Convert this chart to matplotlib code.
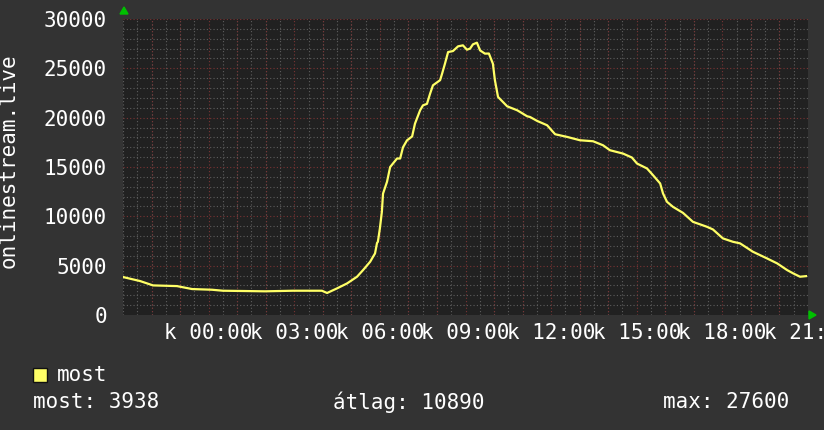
import matplotlib.pyplot as plt
from matplotlib.ticker import MultipleLocator

# hours since 21:00 of the previous day, viewer counts
hours = [0.00, 0.07, 0.60, 1.05, 1.89, 2.42, 3.12, 3.50, 4.98, 5.96,
         6.97, 7.15, 7.50, 7.85, 8.20, 8.41, 8.66, 8.76, 8.83, 8.90,
         8.93, 9.00, 9.07, 9.11, 9.25, 9.36, 9.60, 9.71, 9.81, 9.95,
         10.13, 10.23, 10.41, 10.51, 10.65, 10.76, 10.86, 11.11, 11.18, 11.28,
         11.39, 11.56, 11.74, 11.91, 12.05, 12.16, 12.26, 12.40, 12.51, 12.68,
         12.82, 12.96, 13.03, 13.14, 13.46, 13.81, 13.91, 14.16, 14.26, 14.51,
         14.86, 15.14, 15.56, 16.01, 16.47, 16.82, 17.06, 17.52, 17.83, 18.01,
         18.36, 18.57, 18.82, 18.92, 19.06, 19.27, 19.62, 19.97, 20.46, 20.67,
         21.02, 21.37, 21.62, 22.07, 22.56, 22.92, 23.27, 23.48, 23.72, 23.93]
viewers = [3850, 3800, 3440, 3000, 2930, 2630, 2560, 2460, 2400, 2460,
           2460, 2230, 2700, 3200, 3880, 4550, 5400, 5900, 6240, 7300,
           7420, 8770, 10460, 12300, 13500, 15000, 15860, 15860, 17000, 17700,
           18100, 19400, 20750, 21250, 21400, 22440, 23280, 23800, 24460, 25470,
           26650, 26750, 27230, 27330, 26890, 27000, 27430, 27600, 26820, 26490,
           26500, 25470, 23800, 22100, 21150, 20750, 20580, 20140, 20070, 19670,
           19230, 18320, 18050, 17710, 17610, 17200, 16700, 16360, 15960, 15350,
           14850, 14170, 13330, 12320, 11470, 10960, 10350, 9440, 8940, 8670,
           7760, 7420, 7260, 6410, 5740, 5230, 4550, 4220, 3880, 3938]

tick_hours = [3, 6, 9, 12, 15, 18, 21, 24]
tick_labels = ["k 00:00", "k 03:00", "k 06:00", "k 09:00",
               "k 12:00", "k 15:00", "k 18:00", "k 21:00"]
y_ticks = [0, 5000, 10000, 15000, 20000, 25000, 30000]

legend_name = "most"
stat_cur = "most: 3938"
stat_avg = "átlag: 10890"
stat_max = "max: 27600"

BACK = "#333333"
CANVAS = "#212121"
GRID = "#5e5e5e"
MGRID = "#7a3434"
LINE = "#ffff66"
FONT = "DejaVu Sans Mono"

fig = plt.figure(figsize=(8.24, 4.30), dpi=100, facecolor=BACK)
ax = fig.add_axes([123 / 824, 115 / 430, 685 / 824, 296 / 430])
ax.set_facecolor(CANVAS)

ax.plot(hours, viewers, color=LINE, lw=1.6, zorder=3)

ax.set_xlim(0, 24)
ax.set_ylim(0, 30000)

# grid: grey every 30 min / 1000, red every hour / 5000
ax.xaxis.set_minor_locator(MultipleLocator(0.5))
ax.yaxis.set_minor_locator(MultipleLocator(1000))
ax.grid(which="minor", color=GRID, ls=(0, (1, 2)), lw=0.8)
ax.set_axisbelow(True)
for h in range(1, 24):
    ax.axvline(h, color=MGRID, ls=(0, (1, 2)), lw=0.8, zorder=1)
for v in y_ticks[1:]:
    ax.axhline(v, color=MGRID, ls=(0, (1, 2)), lw=0.8, zorder=1)

ax.set_xticks(tick_hours)
ax.set_xticklabels(tick_labels)
ax.set_yticks(y_ticks)
ax.set_yticklabels([str(v) for v in y_ticks])
ax.tick_params(axis="both", which="both", length=0, colors="white",
               labelsize=15)
ax.tick_params(axis="x", pad=6)
ax.tick_params(axis="y", pad=11.5)
for lab in ax.get_xticklabels() + ax.get_yticklabels():
    lab.set_fontfamily(FONT)

for s in ax.spines.values():
    s.set_visible(False)

ax.set_ylabel("onlinestream.live", color="white", fontsize=15,
              fontfamily=FONT, labelpad=0)
ax.yaxis.set_label_coords(-104 / 685, 0.52)

# axis arrows
fig.patches.append(plt.Polygon([[120 / 824, 1 - 14 / 430], [128 / 824, 1 - 14 / 430],
                                [124 / 824, 1 - 7 / 430]], closed=True,
                               transform=fig.transFigure, color="#00c000"))
fig.patches.append(plt.Polygon([[809 / 824, 1 - 311 / 430], [809 / 824, 1 - 319 / 430],
                                [816 / 824, 1 - 315 / 430]], closed=True,
                               transform=fig.transFigure, color="#00c000"))

# legend
fig.patches.append(plt.Rectangle((33 / 824, 1 - 382 / 430), 14 / 824, 14 / 430,
                                 transform=fig.transFigure, facecolor=LINE,
                                 edgecolor="#111111", lw=1))
fig.text(57 / 824, 1 - 375 / 430, legend_name, color="white", fontsize=15,
         fontfamily=FONT, va="center")
fig.text(33 / 824, 1 - 402 / 430, stat_cur, color="white", fontsize=15,
         fontfamily=FONT, va="center")
fig.text(333 / 824, 1 - 402 / 430, stat_avg, color="white", fontsize=15,
         fontfamily=FONT, va="center")
fig.text(663 / 824, 1 - 402 / 430, stat_max, color="white", fontsize=15,
         fontfamily=FONT, va="center")

fig.savefig("out.png", dpi=100, facecolor=BACK)
